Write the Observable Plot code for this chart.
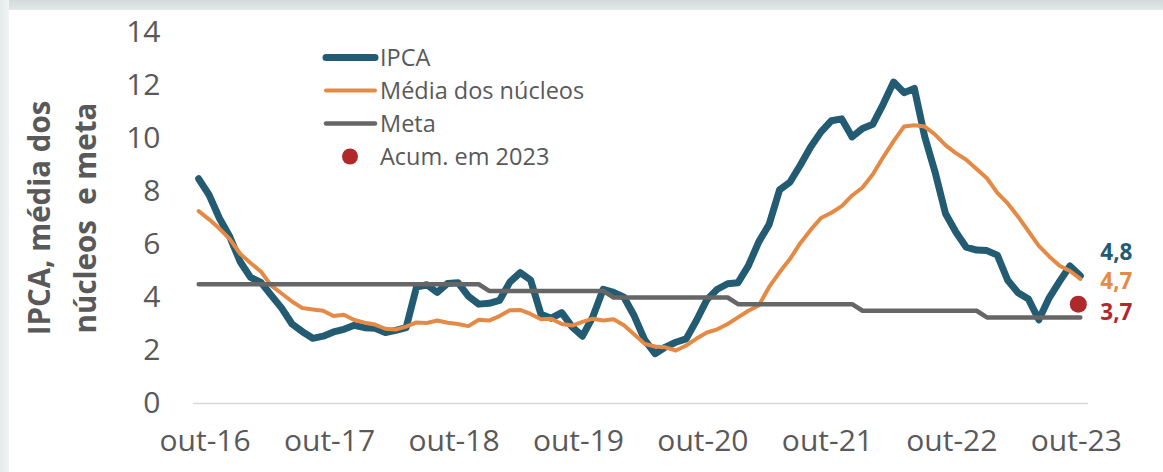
<!DOCTYPE html>
<html><head><meta charset="utf-8">
<script src="https://cdn.jsdelivr.net/npm/d3@7"></script>
<script src="https://cdn.jsdelivr.net/npm/@observablehq/plot@0.6"></script>
<style>
html,body{margin:0;padding:0;background:#fff;}
#wrap{position:relative;width:1163px;height:472px;overflow:hidden;font-family:"Open Sans",sans-serif;}
#wrap svg.plot{position:absolute;left:0;top:0;}
#bandTop{position:absolute;left:0;top:0;width:1163px;height:10px;background:linear-gradient(#d3dada,#e2e7e7);z-index:2;}
#bandLeft{position:absolute;left:0;top:0;width:9px;height:472px;background:linear-gradient(to right,#e4eaea,#f1f4f4);z-index:2;}
#legend{position:absolute;left:322px;top:41px;z-index:3;}
.row{display:flex;align-items:center;height:33px;}
.row svg{display:block;flex:none;}
.row span{font-size:23.5px;color:#595959;line-height:1;white-space:nowrap;}
</style>
</head><body>
<div id="wrap">
  <div id="bandTop"></div><div id="bandLeft"></div>
  <div id="legend"></div>
</div>
<script>
// ---- data ----
const monthNames = ["jan","fev","mar","abr","mai","jun","jul","ago","set","out","nov","dez"];
const months = [];
for (let yy = 16; yy <= 23; yy++) for (let m = 0; m < 12; m++) {
  if ((yy === 16 && m < 8) || (yy === 23 && m > 9)) continue;
  months.push(`${monthNames[m]}-${yy}`);
}
const xTicks = ["out-16","out-17","out-18","out-19","out-20","out-21","out-22","out-23"];
const yTicks = [0, 2, 4, 6, 8, 10, 12, 14];

// IPCA, 12-month (set-16 .. out-23)
const ipca = [8.48, 7.87, 6.99, 6.29,
  5.35, 4.76, 4.57, 4.08, 3.60, 3.00, 2.71, 2.46, 2.54, 2.70, 2.80, 2.95,
  2.86, 2.84, 2.68, 2.76, 2.86, 4.39, 4.48, 4.19, 4.53, 4.56, 4.05, 3.75,
  3.78, 3.89, 4.58, 4.94, 4.66, 3.37, 3.22, 3.43, 2.89, 2.54, 3.27, 4.31,
  4.19, 4.01, 3.30, 2.40, 1.88, 2.13, 2.31, 2.44, 3.14, 3.92, 4.31, 4.52,
  4.56, 5.20, 6.10, 6.76, 8.06, 8.35, 8.99, 9.68, 10.25, 10.67, 10.74, 10.06,
  10.38, 10.54, 11.30, 12.13, 11.73, 11.89, 10.07, 8.73, 7.17, 6.47, 5.90, 5.79,
  5.77, 5.60, 4.65, 4.18, 3.94, 3.16, 3.99, 4.61, 5.19, 4.82];

// Média dos núcleos
const nucleos = [7.26, 6.95, 6.6, 6.2,
  5.65, 5.3, 4.98, 4.45, 4.15, 3.85, 3.6, 3.55, 3.5, 3.3, 3.35, 3.15,
  3.05, 2.98, 2.82, 2.79, 2.9, 3.06, 3.04, 3.13, 3.05, 3.0, 2.92, 3.16,
  3.13, 3.3, 3.52, 3.53, 3.38, 3.18, 3.2, 3.0, 2.94, 3.08, 3.2, 3.13,
  3.18, 2.95, 2.6, 2.25, 2.15, 2.12, 2.0, 2.19, 2.45, 2.68, 2.8, 3.0,
  3.25, 3.5, 3.7, 4.4, 4.95, 5.45, 6.05, 6.55, 7.0, 7.2, 7.45, 7.85,
  8.15, 8.65, 9.3, 9.9, 10.45, 10.5, 10.45, 10.15, 9.75, 9.45, 9.2, 8.85,
  8.5, 7.95, 7.55, 7.05, 6.5, 5.95, 5.55, 5.2, 5.0, 4.7];

// Meta
const meta = [4.5, 4.5, 4.5, 4.5,
  4.5, 4.5, 4.5, 4.5, 4.5, 4.5, 4.5, 4.5, 4.5, 4.5, 4.5, 4.5,
  4.5, 4.5, 4.5, 4.5, 4.5, 4.5, 4.5, 4.5, 4.5, 4.5, 4.5, 4.5,
  4.25, 4.25, 4.25, 4.25, 4.25, 4.25, 4.25, 4.25, 4.25, 4.25, 4.25, 4.25,
  4.0, 4.0, 4.0, 4.0, 4.0, 4.0, 4.0, 4.0, 4.0, 4.0, 4.0, 4.0,
  3.75, 3.75, 3.75, 3.75, 3.75, 3.75, 3.75, 3.75, 3.75, 3.75, 3.75, 3.75,
  3.5, 3.5, 3.5, 3.5, 3.5, 3.5, 3.5, 3.5, 3.5, 3.5, 3.5, 3.5,
  3.25, 3.25, 3.25, 3.25, 3.25, 3.25, 3.25, 3.25, 3.25, 3.25];

const acumMonth = ["out-23"];
const acumValue = [3.75];
const endLabels = ["4,8", "4,7", "3,7"];

const seriesNames = ["IPCA", "Média dos núcleos", "Meta", "Acum. em 2023"];
const colors = {ipca: "#235b73", nuc: "#e58a45", meta: "#666666", acum: "#b0292a", text: "#595959"};

const rows = months.map((m, i) => ({m, ipca: ipca[i], nuc: nucleos[i], meta: meta[i]}));
const last = rows[rows.length - 1];
const acum = acumMonth.map((m, i) => ({m, v: acumValue[i]}));

const chart = Plot.plot({
  width: 1163, height: 472,
  marginLeft: 193, marginRight: 75, marginTop: 32, marginBottom: 69,
  style: {background: "transparent", fontFamily: "'Open Sans', sans-serif", color: colors.text, overflow: "visible"},
  x: {type: "point", domain: months, insetRight: 3},
  y: {domain: [0, 14]},
  marks: [
    Plot.ruleY([0], {stroke: "#d9d9d9", strokeWidth: 1.5}),
    Plot.axisY({ticks: yTicks, tickSize: 0, tickPadding: 33, fontSize: 30, label: null}),
    Plot.axisX({ticks: xTicks, tickSize: 0, tickPadding: 26, fontSize: 30, label: null, dx: -4}),
    Plot.text(["IPCA, média dos\nnúcleos  e meta"], {frameAnchor: "left", rotate: -90, dx: -135, fontSize: 29.5, fontWeight: "bold", lineHeight: 1.55, fill: colors.text, textAnchor: "middle", lineAnchor: "middle"}),
    Plot.line(rows, {x: "m", y: "ipca", stroke: colors.ipca, strokeWidth: 7, strokeLinejoin: "round"}),
    Plot.line(rows, {x: "m", y: "nuc", stroke: colors.nuc, strokeWidth: 4, strokeLinejoin: "round"}),
    Plot.line(rows, {x: "m", y: "meta", stroke: colors.meta, strokeWidth: 4.5, strokeLinejoin: "round"}),
    Plot.dot(acum, {x: "m", y: "v", r: 8.5, fill: colors.acum, stroke: null, dx: -2}),
    Plot.text([last], {x: "m", y: "ipca", text: () => endLabels[0], dx: 20, dy: -23, textAnchor: "start", fontSize: 22.5, fontWeight: "bold", fill: colors.ipca}),
    Plot.text([last], {x: "m", y: "nuc", text: () => endLabels[1], dx: 20, dy: 3, textAnchor: "start", fontSize: 22.5, fontWeight: "bold", fill: colors.nuc}),
    Plot.text(acum, {x: "m", y: "v", text: () => endLabels[2], dx: 20, dy: 9, textAnchor: "start", fontSize: 22.5, fontWeight: "bold", fill: colors.acum})
  ]
});
document.getElementById("wrap").appendChild(chart);

// legend
const legend = document.getElementById("legend");
const swatches = [
  {type: "line", color: colors.ipca, w: 7},
  {type: "line", color: colors.nuc, w: 4},
  {type: "line", color: colors.meta, w: 4.5},
  {type: "dot", color: colors.acum}
];
seriesNames.forEach((name, i) => {
  const s = swatches[i];
  const row = document.createElement("div");
  row.className = "row";
  const shape = s.type === "line"
    ? `<line x1="4" x2="53" y1="16.5" y2="16.5" stroke="${s.color}" stroke-width="${s.w}" stroke-linecap="round"/>`
    : `<circle cx="28" cy="16.5" r="8" fill="${s.color}"/>`;
  row.innerHTML = `<svg width="57" height="33">${shape}</svg><span style="margin-left:1px">${name}</span>`;
  legend.appendChild(row);
});
</script>
</body></html>
